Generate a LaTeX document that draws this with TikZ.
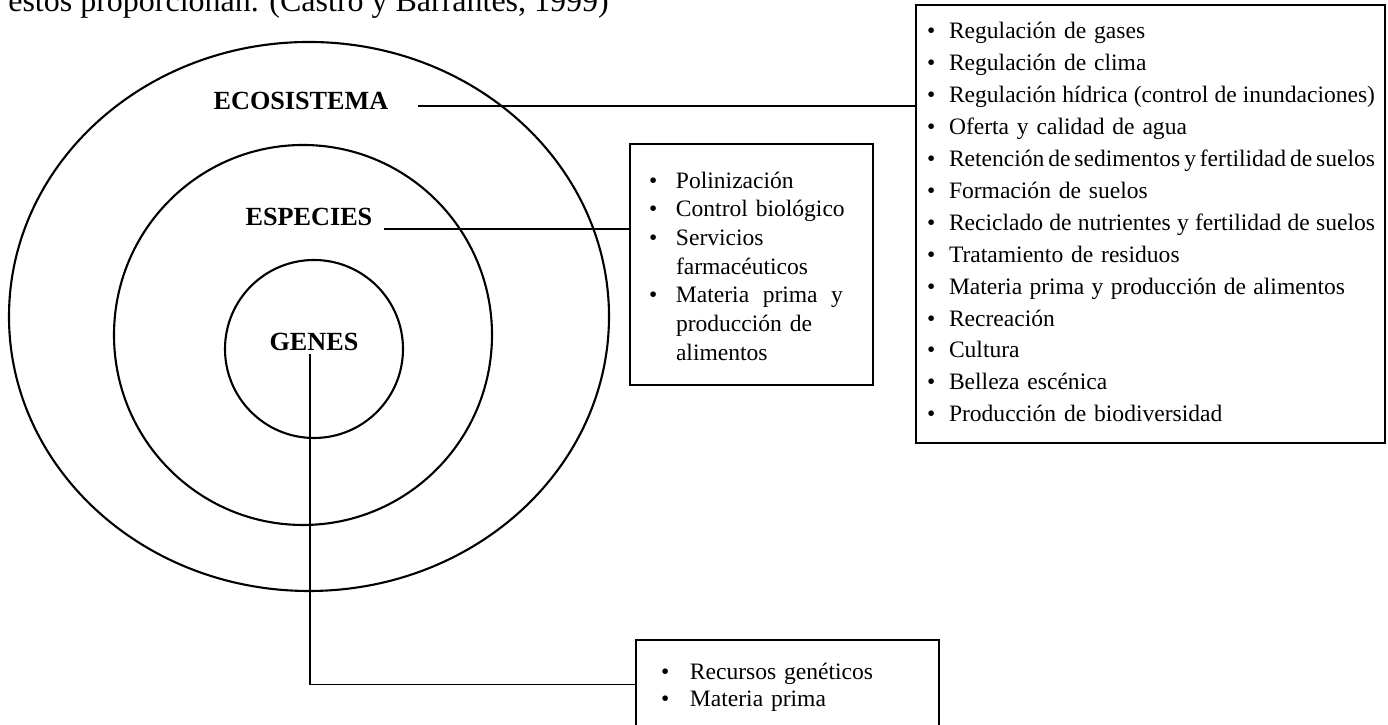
\documentclass[tikz,border=0pt]{standalone}
\usepackage{fontspec}
\setmainfont{Liberation Serif}
\newcommand{\fitline}[2]{{\spaceskip=0pt plus 1fil\relax\makebox[#1][s]{#2}}}

\begin{document}
\begin{tikzpicture}[x=1cm,y=1cm,
      ring/.style={draw=black, line width=1.2pt},
      level/.style={font=\fontsize{14.9}{17}\selectfont\bfseries,
        inner sep=0pt},
      listbox/.style={draw=black, line width=1pt, inner ysep=0pt,
        align=left, font=\fontsize{13.4}{16}\selectfont},
      link/.style={draw=black, line width=.8pt}]
      \useasboundingbox (0,0) rectangle (27.76,14.5);
      \clip (0,0) rectangle (27.76,14.5);

      \node[anchor=base west, inner sep=0pt,
        font=\fontsize{18.2}{21}\selectfont] (caption) at (.16,14.26)
        {estos proporcionan. (Castro y Barrantes, 1999)};

      % three levels
      \draw[ring] (6.18,8.17) ellipse [x radius=6.00, y radius=5.49];
      \draw[ring] (6.06,7.80) ellipse [x radius=3.78, y radius=3.80];
      \draw[ring] (6.28,7.52) ellipse [x radius=1.78, y radius=1.78];

      \node[level] (eco) at (6.02,12.48) {ECOSISTEMA};
      \node[level] (esp) at (6.18,10.17) {ESPECIES};
      \node[level] (gen) at (6.28,7.67) {GENES};

      % service lists
      \node[listbox, text width=8.94cm, inner xsep=.22cm,
        minimum height=8.77cm] (ecobox) at (23.01,10.02) {%
        \fontsize{13.4}{18.15}\selectfont
        \begin{tabular}{@{}p{.44cm}@{}l@{}}
          \textbullet & Regulación de gases\\
          \textbullet & Regulación de clima\\
          \textbullet & \fitline{8.52cm}{Regulación hídrica (control de inundaciones)}\\
          \textbullet & Oferta y calidad de agua\\
          \textbullet & \fitline{8.52cm}{Retención de sedimentos y fertilidad de suelos}\\
          \textbullet & Formación de suelos\\
          \textbullet & \fitline{8.52cm}{Reciclado de nutrientes y fertilidad de suelos}\\
          \textbullet & Tratamiento de residuos\\
          \textbullet & \fitline{7.92cm}{Materia prima y producción de alimentos}\\
          \textbullet & Recreación\\
          \textbullet & Cultura\\
          \textbullet & Belleza escénica\\
          \textbullet & Producción de biodiversidad
        \end{tabular}};

      \node[listbox, text width=4.10cm, inner xsep=.38cm,
        minimum height=4.82cm] (espbox) at (15.03,9.21) {%
        \fontsize{13.4}{16.3}\selectfont
        \begin{tabular}{@{}p{.54cm}@{}l@{}}
          \textbullet\rule{0pt}{16pt} & Polinización\\
          \textbullet & Control biológico\\
          \textbullet & Servicios\\
                      & farmacéuticos\\
          \textbullet & \fitline{3.34cm}{Materia prima y}\\
                      & producción de\\
                      & alimentos
        \end{tabular}};

      \node[listbox, text width=5.06cm, inner xsep=.5cm,
        minimum height=1.78cm] (genbox) at (15.75,.81) {%
        \fontsize{13.4}{15.5}\selectfont
        \begin{tabular}{@{}p{.58cm}@{}l@{}}
          \textbullet\rule{0pt}{14.3pt} & Recursos genéticos\\
          \textbullet & Materia prima
        \end{tabular}};

      % connectors
      \coordinate (ecostart) at (8.36,12.38);
      \coordinate (espstart) at (7.68,9.92);
      \coordinate (genstart) at (6.20,7.42);
      \draw[link] (ecostart) -- (ecostart -| ecobox.west);
      \draw[link] (espstart) -- (espstart -| espbox.west);
      \draw[link] (genstart) |- (genbox.west);
    \end{tikzpicture}
\end{document}
